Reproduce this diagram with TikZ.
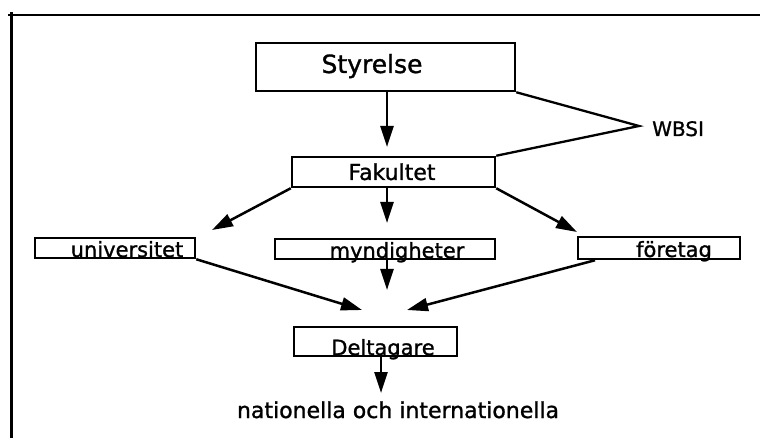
\documentclass[tikz,border=0pt]{standalone}
\usepackage{fontspec}
\setmainfont{DejaVu Sans}[FakeBold=1.2]
\usetikzlibrary{arrows.meta}
\begin{document}
\begin{tikzpicture}[x=1pt,y=-1pt,
  box/.style={draw,line width=2.5pt,inner sep=0pt},
  lbl/.style={anchor=base,inner sep=0pt},
  conn/.style={line width=2.5pt,-{Triangle[length=21pt,width=13pt]}},
  plain/.style={line width=2.3pt}]
\useasboundingbox (0,0) rectangle (760,438);
% frame
\draw[line width=3pt] (11,438) -- (11,12);
\draw[line width=2.5pt] (8,15) -- (760,15);
% boxes
\node[box,minimum width=259pt,minimum height=48pt] (sty) at (385.5,67) {};
\node[box,minimum width=203pt,minimum height=30pt] (fak) at (393.5,172) {};
\node[box,minimum width=160pt,minimum height=20pt] (uni) at (115,248) {};
\node[box,minimum width=220pt,minimum height=20pt] (myn) at (385,249) {};
\node[box,minimum width=162pt,minimum height=22pt] (for) at (659,248) {};
\node[box,minimum width=163pt,minimum height=29pt] (del) at (375.5,341.5) {};
% labels
\node[lbl,font=\fontsize{25}{25}\selectfont] (tsty) at (372,73) {Styrelse};
\node[lbl,font=\fontsize{22}{22}\selectfont] (tfak) at (392,180) {Fakultet};
\node[lbl,font=\fontsize{21}{21}\selectfont] (tuni) at (127,257) {universitet};
\node[lbl,font=\fontsize{21}{21}\selectfont] (tmyn) at (397,258) {myndigheter};
\node[lbl,font=\fontsize{21}{21}\selectfont] (tfor) at (674,257) {företag};
\node[lbl,font=\fontsize{21}{21}\selectfont] (tdel) at (383,355) {Deltagare};
\node[anchor=base west,inner sep=0pt,font=\fontsize{20}{20}\selectfont] (wbsi) at (652,136) {WBSI};
\node[lbl,font=\fontsize{22}{22}\selectfont] (out) at (398,418) {nationella och internationella};
% free ends
\coordinate (apex) at (639,126);
\coordinate (t1) at (387,147);
\coordinate (t2) at (212,230);
\coordinate (t3) at (387,223);
\coordinate (t4) at (577,232);
\coordinate (t5) at (362,310);
\coordinate (t6) at (387,290);
\coordinate (t7) at (407,310);
\coordinate (t8) at (381,393);
% connectors
\draw[plain] (sty.south east) -- (apex) -- (fak.north east);
\draw[conn] (sty.south -| t1) -- (t1);
\draw[conn] (fak.south west) -- (t2);
\draw[conn] (fak.south -| t3) -- (t3);
\draw[conn] (fak.south east) -- (t4);
\draw[conn] (uni.south east) -- (t5);
\draw[conn] (myn.south -| t6) -- (t6);
\draw[conn] ([xshift=-64pt]for.south) -- (t7);
\draw[conn] (del.south -| t8) -- (t8);
\end{tikzpicture}
\end{document}
